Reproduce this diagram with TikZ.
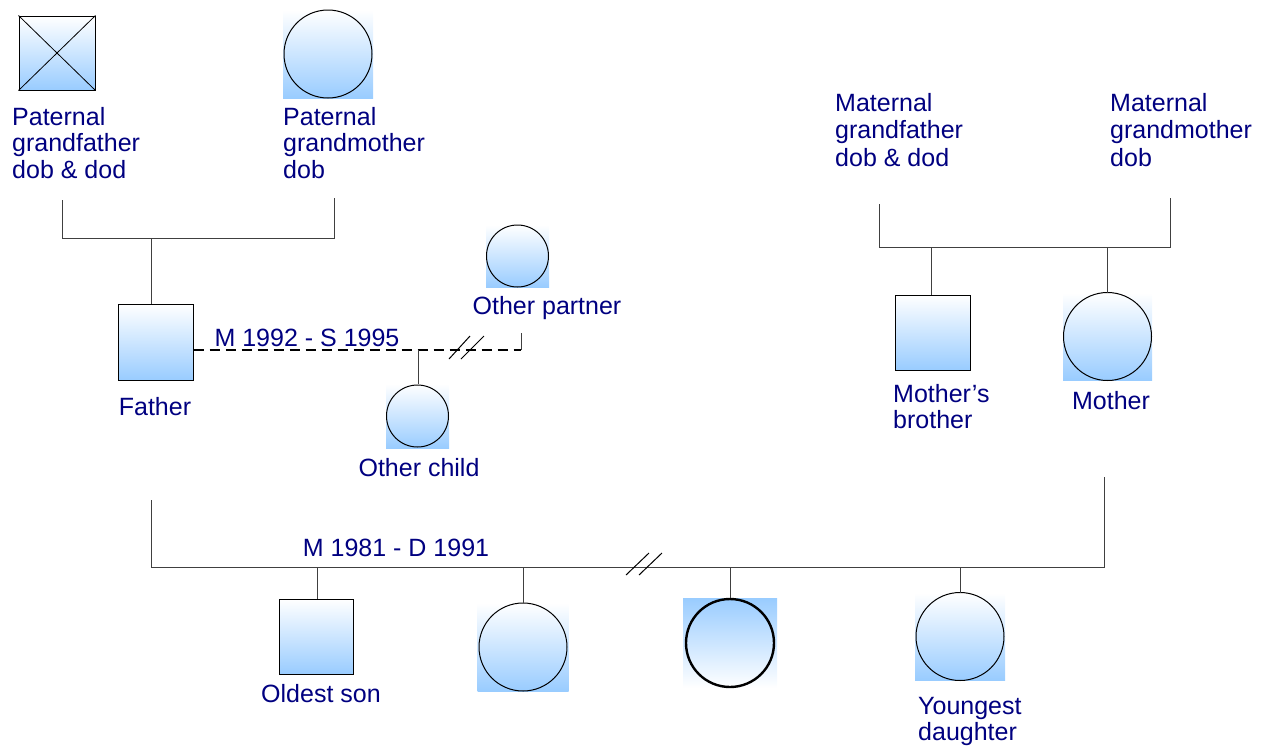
\documentclass[tikz,border=0pt]{standalone}
\usepackage{fontspec}
\setmainfont{Liberation Sans}
\definecolor{navytext}{RGB}{0,0,128}
\definecolor{famblue}{RGB}{153,204,255}
\begin{document}
\begin{tikzpicture}[x=1pt,y=-1pt,
  lbl/.style={text=navytext, font=\fontsize{25}{26.5}\selectfont, inner sep=0pt, align=left},
  shaded/.style={rectangle, inner sep=0pt, top color=white, bottom color=famblue},
  malebox/.style={shaded, draw=black, line width=1pt, minimum width=75pt, minimum height=75pt},
  femalebox/.style={shaded, minimum width=90pt, minimum height=88pt},
  smallbox/.style={shaded, minimum width=63pt, minimum height=62pt},
  link/.style={line width=1pt, black!75},
  ring/.style={draw=black, line width=1pt}]
\useasboundingbox (0,0) rectangle (1267,748);

% ---- paternal grandparents ----
\node[malebox, minimum width=76pt, minimum height=74pt] (pgf) at (57,53) {};
\draw[line width=0.8pt] (pgf.north west) -- (pgf.south east) (pgf.north east) -- (pgf.south west);
\node[femalebox] (pgm) at (328,54) {};
\draw[ring] (pgm.center) circle[radius=44];
\node[lbl, anchor=north west] (pgflbl) at (12,107) {Paternal\\grandfather\\dob \& dod};
\node[lbl, anchor=north west] (pgmlbl) at (283,107) {Paternal\\grandmother\\dob};
\coordinate (pgfend) at (62,200);
\coordinate (pgmend) at (334,198);
\coordinate (pdrop) at (151,238);

% ---- father and his other relationship ----
\node[malebox, minimum width=75pt, minimum height=76pt] (father) at (155.5,342) {};
\node[lbl, anchor=base] (fatherlbl) at (155,415) {Father};
\node[smallbox] (partner) at (517.5,256) {};
\draw[ring] (partner.center) circle[radius=31];
\node[lbl, anchor=base] (partnerlbl) at (547,314) {Other partner};
\node[smallbox, minimum height=64pt] (ochild) at (417.5,416) {};
\draw[ring] (ochild.center) circle[radius=31];
\node[lbl, anchor=base] (ochildlbl) at (419,476) {Other child};
\node[lbl, anchor=base] (sep1) at (307,346) {M 1992 - S 1995};
\coordinate (pend) at (521,333);
\coordinate (pline) at (521,350);
\coordinate (cdrop) at (418,350);

% ---- maternal side ----
\node[lbl, anchor=north west, font=\fontsize{25}{27.5}\selectfont] (mgflbl) at (835,93) {Maternal\\grandfather\\dob \& dod};
\node[lbl, anchor=north west, font=\fontsize{25}{27.5}\selectfont] (mgmlbl) at (1110,93) {Maternal\\grandmother\\dob};
\coordinate (mgfend) at (879,204);
\coordinate (mgmend) at (1170,198);
\coordinate (bdrop) at (931,247);
\coordinate (mdrop) at (1107,247);
\node[malebox] (brother) at (932.5,332.5) {};
\node[lbl, anchor=north west] (brotherlbl) at (893,384) {Mother’s\\brother};
\node[femalebox, minimum width=89pt, minimum height=87pt] (mother) at (1107.5,336.5) {};
\draw[ring] (mother.center) circle[radius=44];
\node[lbl, anchor=base] (motherlbl) at (1111,409) {Mother};

% ---- children of the marriage ----
\coordinate (fend) at (151,500);
\coordinate (mend) at (1104,477);
\node[lbl, anchor=base] (marlbl) at (396,556) {M 1981 - D 1991};
\node[malebox, minimum width=74pt] (son) at (316,636.5) {};
\node[lbl, anchor=base] (sonlbl) at (321,702) {Oldest son};
\node[femalebox, minimum width=91pt] (child2) at (523,647) {};
\draw[ring] (child2.center) circle[radius=44];
\node[shaded, top color=famblue, bottom color=white, minimum width=94pt, minimum height=90pt] (child3) at (730,643) {};
\draw[draw=black, line width=2.4pt] (child3.center) circle[radius=44];
\node[femalebox, minimum height=87pt] (child4) at (960,636.5) {};
\draw[ring] (child4.center) circle[radius=44];
\node[lbl, anchor=north west] (child4lbl) at (918,697) {Youngest\\daughter};

% ---- connectors ----
\draw[link] (pgfend) -- (pgfend |- pdrop) -- (pgmend |- pdrop) -- (pgmend);
\draw[link] (pdrop) -- (pdrop |- father.north);
\draw[line width=1.5pt, dash pattern=on 10pt off 6pt] (father.east |- pline) -- (pline);
\draw[link] (pline) -- (pend);
\draw[link] (cdrop) -- (cdrop |- ochild.north);
\draw[line width=1pt] (449,359) -- (470,336) (461,359) -- (484,336);

\draw[link] (mgfend) -- (mgfend |- bdrop) -- (mgmend |- bdrop) -- (mgmend);
\draw[link] (bdrop) -- (bdrop |- brother.north);
\draw[link] (mdrop) -- (mdrop |- mother.north);

\draw[link] (fend) -- (fend |- 0,567) -- (mend |- 0,567) -- (mend);
\draw[link] (317,567) -- (317,599);
\draw[link] (child2.north) -- (child2.north |- 0,567);
\draw[link] (child3.north) -- (child3.north |- 0,567);
\draw[link] (child4.north) -- (child4.north |- 0,567);
\draw[line width=1pt] (626,575) -- (649,553) (639,575) -- (662,553);
\end{tikzpicture}
\end{document}
